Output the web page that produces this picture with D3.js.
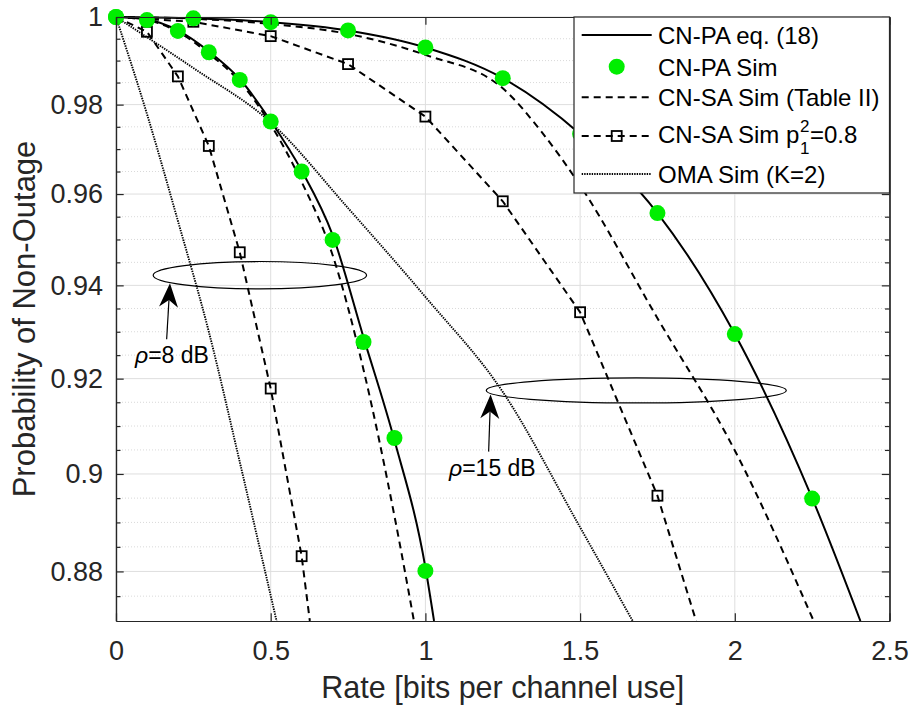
<!DOCTYPE html>
<html>
<head>
<meta charset="utf-8">
<script src="https://d3js.org/d3.v7.min.js"></script>
<style>
  body { margin: 0; background: #fff; }
  svg { display: block; font-family: "Liberation Sans", Arial, sans-serif; }
</style>
</head>
<body>
<svg id="chart" width="913" height="708"></svg>
<script>
/// Non-outage probability vs rate ///

// axis ticks
const xTicks = [0, 0.5, 1, 1.5, 2, 2.5];
const xTickLabels = ["0", "0.5", "1", "1.5", "2", "2.5"];
const yTicks = [0.88, 0.9, 0.92, 0.94, 0.96, 0.98, 1];
const yTickLabels = ["0.88", "0.9", "0.92", "0.94", "0.96", "0.98", "1"];
const yMinorTicks = [0.875, 0.885, 0.89, 0.895, 0.905, 0.91, 0.915, 0.925, 0.93, 0.935,
                     0.945, 0.95, 0.955, 0.965, 0.97, 0.975, 0.985, 0.99, 0.995];

// rho = 8 dB
const paSimRate8 = [0, 0.1, 0.2, 0.3, 0.4, 0.5, 0.6, 0.7, 0.8, 0.9, 1.0];
const paSim8     = [1, 0.9993, 0.9968, 0.9919, 0.9856, 0.9762, 0.9650, 0.9499, 0.9278, 0.9075, 0.8801];
const paEqRate8  = [0, 0.1, 0.2, 0.3, 0.4, 0.5, 0.6, 0.7, 0.8, 0.9, 1.0, 1.028];
const paEq8      = [1, 0.9994, 0.9969, 0.9921, 0.9858, 0.9763, 0.9652, 0.9510, 0.9288, 0.9070, 0.8808, 0.87];
const saTabRate8 = [0, 0.1, 0.2, 0.3, 0.4, 0.5, 0.6, 0.7, 0.8, 0.9, 0.963];
const saTab8     = [1, 0.9993, 0.9966, 0.9916, 0.9852, 0.9755, 0.9627, 0.9466, 0.9219, 0.8913, 0.87];
const saP08Rate8 = [0, 0.1, 0.2, 0.3, 0.4, 0.5, 0.6];
const saP08_8    = [1, 0.9966, 0.9864, 0.9707, 0.9472, 0.9179, 0.8831];
const saP08Tail8 = [0.6265, 0.87];
const omaRate8   = [0, 0.1, 0.2, 0.3, 0.4, 0.5, 0.519];
const oma8       = [1, 0.9779, 0.9541, 0.9300, 0.9025, 0.8751, 0.87];

// rho = 15 dB
const paSimRate15 = [0, 0.25, 0.5, 0.75, 1.0, 1.25, 1.5, 1.75, 2.0, 2.25];
const paSim15     = [1, 0.9997, 0.9988, 0.9969, 0.9930, 0.9860, 0.9734, 0.9558, 0.9295, 0.8949];
const paEqRate15  = [0, 0.25, 0.5, 0.75, 1.0, 1.25, 1.5, 1.75, 2.0, 2.25, 2.406];
const paEq15      = [1, 0.9997, 0.9988, 0.9969, 0.9930, 0.9860, 0.9734, 0.9558, 0.9295, 0.8950, 0.87];
const saTabRate15 = [0, 0.25, 0.5, 0.75, 1.0, 1.25, 1.375, 1.5, 1.75, 2.0, 2.255];
const saTab15     = [1, 0.9996, 0.9984, 0.9961, 0.9913, 0.9837, 0.9739, 0.9619, 0.9329, 0.9049, 0.87];
const saP08Rate15 = [0, 0.25, 0.5, 0.75, 1.0, 1.25, 1.5, 1.75];
const saP08_15    = [1, 0.9989, 0.9956, 0.9892, 0.9773, 0.9584, 0.9342, 0.8955];
const saP08Tail15 = [1.875, 0.87];
const omaRate15   = [0, 0.25, 0.5, 0.75, 1.0, 1.25, 1.5, 1.67];
const oma15       = [1, 0.9883, 0.9760, 0.9569, 0.9375, 0.9172, 0.8890, 0.87];

const legendLabels = ["CN-PA eq. (18)", "CN-PA Sim", "CN-SA Sim (Table II)", "CN-SA Sim p", "OMA Sim (K=2)"];

const axisColor = "#262626";
const green = "#00ee00";
const dashed = "7,5";
const dotted = "1.4,1.1";

const svg = d3.select("#chart");
const pLeft = 116, pRight = 889.5, pTop = 17, pBottom = 621;

const x = d3.scaleLinear().domain([0, 2.5]).range([pLeft, pRight]);
const y = d3.scaleLog().domain([0.87, 1]).range([pBottom, pTop]);

const zip = (a, b) => a.map((d, i) => [d, b[i]]);

// grid
const grid = svg.append("g");
grid.selectAll(".minor").data(yMinorTicks).join("line")
    .attr("x1", pLeft).attr("x2", pRight)
    .attr("y1", d => y(d)).attr("y2", d => y(d))
    .attr("stroke", "#cfcfcf").attr("stroke-width", 0.8).attr("stroke-dasharray", "1,2");
grid.selectAll(".gx").data(xTicks).join("line")
    .attr("x1", d => x(d)).attr("x2", d => x(d))
    .attr("y1", pTop).attr("y2", pBottom)
    .attr("stroke", "#dedede").attr("stroke-width", 1);
grid.selectAll(".gy").data(yTicks).join("line")
    .attr("x1", pLeft).attr("x2", pRight)
    .attr("y1", d => y(d)).attr("y2", d => y(d))
    .attr("stroke", "#dedede").attr("stroke-width", 1);

svg.append("clipPath").attr("id", "plotclip")
  .append("rect").attr("x", pLeft).attr("y", pTop - 10)
  .attr("width", pRight - pLeft).attr("height", pBottom - pTop + 10);

const plot = svg.append("g").attr("clip-path", "url(#plotclip)");

const smooth = d3.line().x(d => x(d[0])).y(d => y(d[1])).curve(d3.curveMonotoneX);
const straight = d3.line().x(d => x(d[0])).y(d => y(d[1]));

function drawLine(pts, gen, dash) {
    plot.append("path")
        .attr("d", gen(pts))
        .attr("fill", "none")
        .attr("stroke", "#000")
        .attr("stroke-width", dash === dotted ? 1.9 : 2)
        .attr("stroke-dasharray", dash);
}

drawLine(zip(omaRate8, oma8), smooth, dotted);
drawLine(zip(omaRate15, oma15), smooth, dotted);
drawLine(zip(saTabRate8, saTab8), smooth, dashed);
drawLine(zip(saTabRate15, saTab15), smooth, dashed);
drawLine(zip(saP08Rate8, saP08_8).concat([saP08Tail8]), straight, dashed);
drawLine(zip(saP08Rate15, saP08_15).concat([saP08Tail15]), straight, dashed);
drawLine(zip(paEqRate8, paEq8), smooth, null);
drawLine(zip(paEqRate15, paEq15), smooth, null);

const sq = 10;
[zip(saP08Rate8, saP08_8), zip(saP08Rate15, saP08_15)].forEach(pts => {
    plot.append("g").selectAll("rect").data(pts).join("rect")
        .attr("x", d => x(d[0]) - sq / 2).attr("y", d => y(d[1]) - sq / 2)
        .attr("width", sq).attr("height", sq)
        .attr("fill", "none").attr("stroke", "#000").attr("stroke-width", 1.8);
});

[zip(paSimRate8, paSim8), zip(paSimRate15, paSim15)].forEach(pts => {
    svg.append("g").selectAll("circle").data(pts).join("circle")
        .attr("cx", d => x(d[0])).attr("cy", d => y(d[1])).attr("r", 8)
        .attr("fill", green);
});

// annotations (ellipses + arrows)
function ellipse(cx, cy, rx, ry) {
    svg.append("ellipse")
        .attr("cx", x(cx)).attr("cy", y(cy)).attr("rx", rx).attr("ry", ry)
        .attr("fill", "none").attr("stroke", "#000").attr("stroke-width", 1.2);
}
function arrow(x0, y0, x1, y1) {
    const tx = x(x1), ty = y(y1), sx = x(x0), sy = y(y0);
    const ang = Math.atan2(ty - sy, tx - sx);
    const L = 24, Wd = 9.5, notch = 17;
    const ux = Math.cos(ang), uy = Math.sin(ang), px = -uy, py = ux;
    svg.append("line").attr("x1", sx).attr("y1", sy).attr("x2", tx - ux * notch).attr("y2", ty - uy * notch)
        .attr("stroke", "#000").attr("stroke-width", 1.2);
    const p = [
        [tx, ty],
        [tx - ux * L + px * Wd, ty - uy * L + py * Wd],
        [tx - ux * notch, ty - uy * notch],
        [tx - ux * L - px * Wd, ty - uy * L - py * Wd]
    ];
    svg.append("path").attr("d", "M" + p.map(q => q.join(",")).join("L") + "Z").attr("fill", "#000");
}
function rhoLabel(xv, yv, txt) {
    const t = svg.append("text").attr("x", x(xv)).attr("y", y(yv))
        .attr("font-size", 23).attr("fill", "#000");
    t.append("tspan").attr("font-style", "italic").text("ρ");
    t.append("tspan").text(txt);
}

ellipse(0.465, 0.9422, 106.7, 13.7);
arrow(0.1637, 0.92838, 0.1744, 0.94048);
rhoLabel(0.0613, 0.92338, "=8 dB");

ellipse(1.6816, 0.9175, 150, 12.5);
arrow(1.2044, 0.90465, 1.2108, 0.91662);
rhoLabel(1.0762, 0.89966, "=15 dB");

// axes
const axB = d3.axisBottom(x).tickValues(xTicks).tickFormat((d, i) => xTickLabels[i])
    .tickSizeInner(-7.7).tickSizeOuter(0).tickPadding(20);
const axT = d3.axisTop(x).tickValues(xTicks).tickFormat("").tickSizeInner(-7.7).tickSizeOuter(0);
const axL = d3.axisLeft(y).tickValues(yTicks).tickFormat((d, i) => yTickLabels[i])
    .tickSizeInner(-7.7).tickSizeOuter(0).tickPadding(13);
const axR = d3.axisRight(y).tickValues(yTicks).tickFormat("").tickSizeInner(-7.7).tickSizeOuter(0);
const axLm = d3.axisLeft(y).tickValues(yMinorTicks).tickFormat("").tickSizeInner(-4.5).tickSizeOuter(0);
const axRm = d3.axisRight(y).tickValues(yMinorTicks).tickFormat("").tickSizeInner(-4.5).tickSizeOuter(0);

function styleAxis(g) {
    g.attr("font-family", null).attr("font-size", 27);
    g.selectAll("path, line").attr("stroke", axisColor).attr("stroke-width", 1.2);
    g.selectAll("text").attr("fill", axisColor);
}
svg.append("g").attr("transform", `translate(0,${pBottom})`).call(axB).call(styleAxis);
svg.append("g").attr("transform", `translate(0,${pTop})`).call(axT).call(styleAxis);
svg.append("g").attr("transform", `translate(${pLeft},0)`).call(axL).call(styleAxis);
svg.append("g").attr("transform", `translate(${pRight},0)`).call(axR).call(styleAxis);
svg.append("g").attr("transform", `translate(${pLeft},0)`).call(axLm).call(styleAxis);
svg.append("g").attr("transform", `translate(${pRight},0)`).call(axRm).call(styleAxis);

svg.append("text").attr("x", (pLeft + pRight) / 2).attr("y", 698)
    .attr("text-anchor", "middle").attr("font-size", 30.5).attr("fill", axisColor)
    .text("Rate [bits per channel use]");
svg.append("text").attr("transform", `translate(35,${(pTop + pBottom) / 2}) rotate(-90)`)
    .attr("text-anchor", "middle").attr("font-size", 31).attr("fill", axisColor)
    .text("Probability of Non-Outage");

// legend
const lg = svg.append("g");
lg.append("rect").attr("x", 574).attr("y", pTop).attr("width", pRight - 574).attr("height", 193 - pTop)
    .attr("fill", "#fff").attr("stroke", axisColor).attr("stroke-width", 1.2);
const lx1 = 581.7, lx2 = 651.7, lmid = (lx1 + lx2) / 2, ltx = 658;
const rowY = [35, 66.7, 97.3, 136, 174];
const rowBase = [44.3, 76, 106, 143.3, 182.7];

lg.append("line").attr("x1", lx1).attr("x2", lx2).attr("y1", rowY[0]).attr("y2", rowY[0])
    .attr("stroke", "#000").attr("stroke-width", 2);
lg.append("circle").attr("cx", lmid).attr("cy", rowY[1]).attr("r", 8).attr("fill", green);
lg.append("line").attr("x1", lx1).attr("x2", lx2).attr("y1", rowY[2]).attr("y2", rowY[2])
    .attr("stroke", "#000").attr("stroke-width", 2).attr("stroke-dasharray", dashed);
lg.append("line").attr("x1", lx1).attr("x2", lx2).attr("y1", rowY[3]).attr("y2", rowY[3])
    .attr("stroke", "#000").attr("stroke-width", 2).attr("stroke-dasharray", dashed);
lg.append("rect").attr("x", lmid - sq / 2).attr("y", rowY[3] - sq / 2).attr("width", sq).attr("height", sq)
    .attr("fill", "none").attr("stroke", "#000").attr("stroke-width", 1.8);
lg.append("line").attr("x1", lx1).attr("x2", lx2).attr("y1", rowY[4]).attr("y2", rowY[4])
    .attr("stroke", "#000").attr("stroke-width", 1.9).attr("stroke-dasharray", dotted);

legendLabels.forEach((t, i) => {
    const el = lg.append("text").attr("x", ltx).attr("y", rowBase[i])
        .attr("font-size", 24).attr("fill", "#000").text(t);
    if (i === 3) {
        const w = el.node().getComputedTextLength();
        lg.append("text").attr("x", ltx + w + 0.5).attr("y", rowBase[i] - 11.5)
            .attr("font-size", 17).text("2");
        lg.append("text").attr("x", ltx + w + 0.5).attr("y", rowBase[i] + 11)
            .attr("font-size", 17).text("1");
        lg.append("text").attr("x", ltx + w + 10.5).attr("y", rowBase[i])
            .attr("font-size", 24).text("=0.8");
    }
});
</script>
</body>
</html>
